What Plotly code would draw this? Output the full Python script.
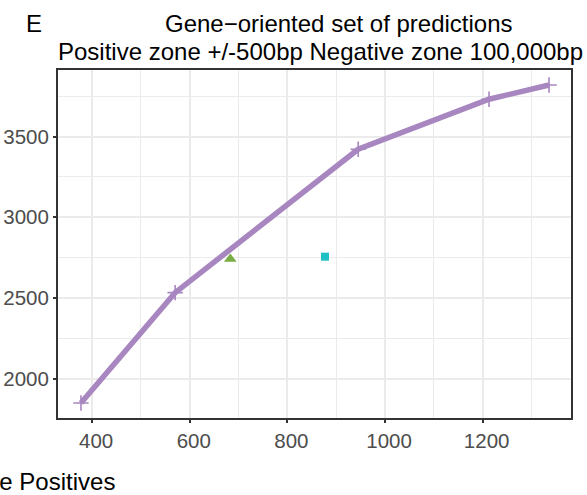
import plotly.graph_objects as go

# Data
fp_line = [377, 570, 945, 1213, 1336]
tp_line = [1849, 2533, 3422, 3732, 3820]
fp_tri = [683]
tp_tri = [2742]
fp_sq = [877]
tp_sq = [2756]

x_ticks = [400, 600, 800, 1000, 1200]
y_ticks = [2000, 2500, 3000, 3500]

W, H = 587, 495
L, R, T, B = 58, 16, 70, 77
PW, PH = W - L - R, H - T - B


def px(xp):
    return (xp - L) / PW


def py(yp):
    return (H - B - yp) / PH


FONT = "Liberation Sans, Arial, sans-serif"
purple = "#A887C0"

fig = go.Figure()
fig.add_trace(go.Scatter(
    x=fp_line, y=tp_line, mode="lines+markers",
    line=dict(color=purple, width=5.5),
    marker=dict(symbol="cross-thin", size=11, line=dict(color=purple, width=1.6)),
    showlegend=False, hoverinfo="skip"))
fig.add_trace(go.Scatter(
    x=fp_tri, y=tp_tri, mode="markers",
    marker=dict(symbol="triangle-up", size=11, color="#7AAD44"),
    showlegend=False))
fig.add_trace(go.Scatter(
    x=fp_sq, y=tp_sq, mode="markers",
    marker=dict(symbol="square", size=8, color="#1FBFC4"),
    showlegend=False))

axis_common = dict(
    showline=True, mirror=True, linecolor="#333333", linewidth=2,
    showgrid=True, gridcolor="#EBEBEB", gridwidth=2,
    ticks="outside", ticklen=3, tickwidth=1.5, tickcolor="#333333",
    tickfont=dict(family=FONT, size=20.5, color="#4D4D4D"),
    zeroline=False, automargin=False,
)

fig.update_xaxes(range=[330, 1381], tickvals=x_ticks, ticktext=[str(v) for v in x_ticks],
                 minor=dict(tickvals=[300, 500, 700, 900, 1100, 1300], showgrid=True,
                            gridcolor="#EBEBEB", gridwidth=1.2, ticks=""),
                 ticklabelshift=4, **axis_common)
fig.update_yaxes(range=[1756, 3913], tickvals=y_ticks, ticktext=[str(v) for v in y_ticks],
                 minor=dict(tickvals=[1750, 2250, 2750, 3250, 3750], showgrid=True,
                            gridcolor="#EBEBEB", gridwidth=1.2, ticks=""),
                 **axis_common)

ann = [
    dict(text="E", x=px(34), y=py(23.5)),
    dict(text="Gene\u2212oriented set of predictions", x=px(338.5), y=py(23)),
    dict(text="Positive zone +/-500bp Negative zone 100,000bp", x=px(320.5), y=py(51.5)),
]
annotations = []
for a in ann:
    annotations.append(dict(
        text=a["text"], x=a["x"], y=a["y"], xref="paper", yref="paper",
        xanchor="center", yanchor="middle", showarrow=False,
        font=dict(family=FONT, size=24, color="black")))
annotations.append(dict(
    text="False Positives", x=px(116.5), y=py(481.5), xref="paper", yref="paper",
    xanchor="right", yanchor="middle", showarrow=False,
    font=dict(family=FONT, size=24, color="black")))

fig.update_layout(
    width=W, height=H,
    margin=dict(l=L, r=R, t=T, b=B, autoexpand=False),
    paper_bgcolor="white", plot_bgcolor="white",
    annotations=annotations,
    showlegend=False,
)

fig.write_html("out.html")
